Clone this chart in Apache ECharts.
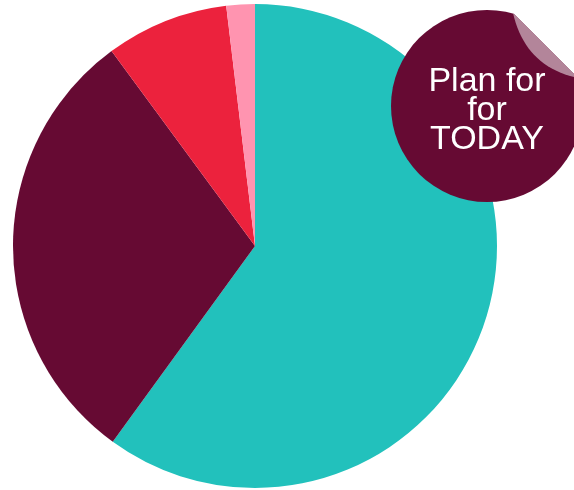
<!DOCTYPE html>
<html>
<head>
<meta charset="utf-8">
<script src="https://cdn.jsdelivr.net/npm/echarts@6/dist/echarts.min.js"></script>
<style>
  html, body { margin: 0; padding: 0; background: #fff; }
  #chart { width: 574px; height: 490px; }
</style>
</head>
<body>
<div id="chart"></div>
<script>
// slice data, clockwise from 12 o'clock
const names = ['A', 'B', 'C', 'D'];
const values = [60, 29.9, 8.2, 1.9];
const colors = ['#22c1bc', '#660a33', '#ec223d', '#ff94b0'];
const badgeText = 'Plan for\nfor\nTODAY';

// page-curl outline: straight fold edge, then curved edge back
const curlPts = [[513, 13], [574, 74], [574, 77]];
for (let t = 0.05; t < 1; t += 0.05) {
  const a = (1 - t) * (1 - t), b = 2 * (1 - t) * t, c = t * t;
  curlPts.push([a * 574 + b * 525 + c * 513, a * 77 + b * 65 + c * 13]);
}

const chart = echarts.init(document.getElementById('chart'));

chart.setOption({
  animation: false,
  series: [
    {
      type: 'pie',
      center: [255, 246],
      radius: [0, 242],
      startAngle: 90,
      clockwise: true,
      label: { show: false },
      labelLine: { show: false },
      itemStyle: { borderWidth: 0 },
      emphasis: { disabled: true },
      data: names.map((n, i) => ({ name: n, value: values[i], itemStyle: { color: colors[i] } }))
    }
  ],
  graphic: [
    {
      type: 'circle',
      shape: { cx: 487, cy: 106, r: 96 },
      style: { fill: '#660a33' },
      z: 10
    },
    {
      // peeled-off corner shows the white page
      type: 'polygon',
      shape: { points: [[513, 0], [574, 0], [574, 74], [513, 13]] },
      style: { fill: '#fff' },
      z: 11
    },
    {
      type: 'polygon',
      shape: { points: curlPts },
      style: { fill: '#b3859a' },
      z: 11
    },
    {
      type: 'text',
      x: 487,
      y: 110.5,
      style: {
        text: badgeText,
        fill: '#fff',
        font: '34px "Liberation Sans", Arial, sans-serif',
        lineHeight: 29,
        align: 'center',
        verticalAlign: 'middle'
      },
      z: 12
    }
  ]
});
</script>
</body>
</html>
